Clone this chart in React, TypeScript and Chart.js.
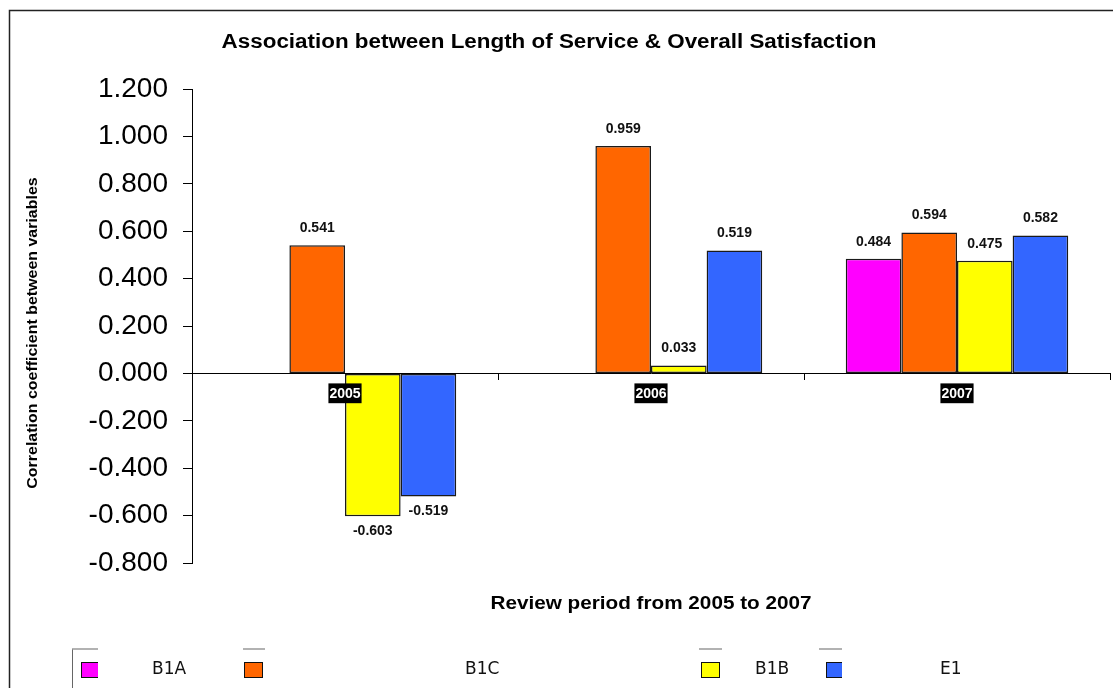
import React, { useEffect, useRef } from "react";
import { Chart, registerables } from "chart.js";

Chart.register(...registerables);

// ---- data ----
const years = ["2005", "2006", "2007"];
const seriesNames = ["B1A", "B1C", "B1B", "E1"];
const b1a: (number | null)[] = [null, null, 0.484];
const b1c: (number | null)[] = [0.541, 0.959, 0.594];
const b1b: (number | null)[] = [-0.603, 0.033, 0.475];
const e1: (number | null)[] = [-0.519, 0.519, 0.582];
const seriesColors = ["#FF00FF", "#FF6600", "#FFFF00", "#3366FF"];

const yMin = -0.8;
const yMax = 1.2;
const yStep = 0.2;

const chartTitle = "Association between Length of Service & Overall Satisfaction";
const yTitle = "Correlation coefficient between variables";
const xTitle = "Review period from 2005 to 2007";

// ---- layout ----
const W = 1113;
const H = 688;
const FONT = "'Liberation Sans', Arial, Helvetica, sans-serif";
const LEGEND_FONT = "'DejaVu Sans', Verdana, sans-serif";

// legend entries: box left, clip right edge, dash span, text left
const legendSlots = [
  { box: 81, clip: 98, dash: [72, 98], text: 152 },
  { box: 244, clip: 264, dash: [243, 265], text: 465 },
  { box: 701, clip: 722, dash: [699, 722], text: 755 },
  { box: 826, clip: 842, dash: [819, 842], text: 940 },
];

const fmt = (v: number) => (Math.abs(v) < 1e-9 ? 0 : v).toFixed(3);

// text drawn with a slight horizontal stretch
function wideText(ctx: CanvasRenderingContext2D, text: string, x: number, y: number, sx: number) {
  ctx.save();
  ctx.translate(x, y);
  ctx.scale(sx, 1);
  ctx.fillText(text, 0, 0);
  ctx.restore();
}

const framePlugin = {
  id: "frame",
  beforeDraw(chart: any) {
    const ctx = chart.ctx;
    ctx.save();
    ctx.fillStyle = "#ffffff";
    ctx.fillRect(0, 0, W, H);
    ctx.strokeStyle = "#222";
    ctx.lineWidth = 1.5;
    ctx.strokeRect(9.5, 10.5, W + 40, H + 40);
    ctx.restore();
  },
};

const textPlugin = {
  id: "texts",
  afterDraw(chart: any) {
    const ctx = chart.ctx;
    const area = chart.chartArea;
    ctx.save();
    ctx.fillStyle = "#000";
    ctx.textAlign = "center";
    ctx.textBaseline = "middle";
    ctx.font = `bold 20px ${FONT}`;
    wideText(ctx, chartTitle, 549, 42, 1.12);
    ctx.font = `bold 18px ${FONT}`;
    wideText(ctx, xTitle, (area.left + area.right) / 2, 604, 1.15);
    // vertical axis caption
    ctx.save();
    ctx.translate(33, 333);
    ctx.rotate(-Math.PI / 2);
    ctx.font = `bold 14px ${FONT}`;
    wideText(ctx, yTitle, 0, 0, 1.14);
    ctx.restore();
    ctx.restore();
  },
};

const valueLabelPlugin = {
  id: "valueLabels",
  afterDatasetsDraw(chart: any) {
    const ctx = chart.ctx;
    ctx.save();
    ctx.fillStyle = "#111";
    ctx.font = `bold 14px ${FONT}`;
    ctx.textAlign = "center";
    ctx.textBaseline = "middle";
    chart.data.datasets.forEach((ds: any, i: number) => {
      const meta = chart.getDatasetMeta(i);
      meta.data.forEach((el: any, j: number) => {
        const v = ds.data[j];
        if (v === null || v === undefined) return;
        const y = v >= 0 ? el.y - 17 : el.y + 15;
        ctx.fillText(fmt(v), el.x, y);
      });
    });
    ctx.restore();
  },
};

const legendPlugin = {
  id: "customLegend",
  afterDraw(chart: any) {
    const ctx = chart.ctx;
    ctx.save();
    // frame edge
    ctx.strokeStyle = "#666";
    ctx.lineWidth = 1;
    ctx.beginPath();
    ctx.moveTo(72.5, 649);
    ctx.lineTo(72.5, H);
    ctx.stroke();
    chart.data.datasets.forEach((ds: any, i: number) => {
      const s = legendSlots[i];
      ctx.strokeStyle = "#999";
      ctx.lineWidth = 1.5;
      ctx.beginPath();
      ctx.moveTo(s.dash[0], 649);
      ctx.lineTo(s.dash[1], 649);
      ctx.stroke();
      ctx.save();
      ctx.beginPath();
      ctx.rect(s.box - 2, 655, s.clip - s.box + 2, 30);
      ctx.clip();
      ctx.fillStyle = ds.backgroundColor;
      ctx.fillRect(s.box, 662, 19, 16);
      ctx.strokeStyle = "#111";
      ctx.lineWidth = 1;
      ctx.strokeRect(s.box + 0.5, 662.5, 18, 15);
      ctx.restore();
      ctx.fillStyle = "#111";
      ctx.font = `17px ${LEGEND_FONT}`;
      ctx.textAlign = "left";
      ctx.textBaseline = "middle";
      ctx.fillText(ds.label, s.text, 670);
    });
    ctx.restore();
  },
};

export default function App() {
  const canvasRef = useRef<HTMLCanvasElement | null>(null);

  useEffect(() => {
    const canvas = canvasRef.current;
    if (!canvas) return;
    const seriesData = [b1a, b1c, b1b, e1];
    const chart = new Chart(canvas, {
      type: "bar",
      data: {
        labels: years,
        datasets: seriesNames.map((name, i) => ({
          label: name,
          data: seriesData[i],
          backgroundColor: seriesColors[i],
          borderColor: "#1a1a1a",
          borderWidth: 1.5,
          borderSkipped: false,
          barPercentage: 1,
          categoryPercentage: 0.727,
        })),
      },
      options: {
        animation: false,
        responsive: false,
        devicePixelRatio: 1,
        layout: { padding: { left: 0, top: 89, right: 3, bottom: 125 } },
        plugins: {
          legend: { display: false },
          title: { display: false },
          tooltip: { enabled: false },
        },
        scales: {
          x: {
            position: { y: 0 } as any,
            offset: true,
            grid: {
              display: true,
              drawOnChartArea: false,
              drawTicks: true,
              tickLength: 6,
              offset: true,
              color: "#000",
              z: 1,
            } as any,
            border: { display: true, color: "#000", width: 1, z: 1 } as any,
            ticks: {
              z: 1,
              color: "#ffffff",
              font: { family: FONT, size: 14, weight: "bold" },
              padding: 6,
              showLabelBackdrop: true,
              backdropColor: "#000000",
              backdropPadding: { top: 2, bottom: 1, left: 1, right: 1 },
              maxRotation: 0,
            } as any,
          },
          y: {
            min: yMin,
            max: yMax,
            afterFit: (scale: any) => {
              scale.width = 192;
            },
            grid: {
              display: true,
              drawOnChartArea: false,
              drawTicks: true,
              tickLength: 9,
              color: "#000",
            },
            border: { display: true, color: "#000", width: 1 },
            ticks: {
              stepSize: yStep,
              color: "#000",
              padding: 15,
              font: { family: FONT, size: 28 },
              callback: (v: any) => fmt(Number(v)),
            },
          },
        },
      },
      plugins: [framePlugin, valueLabelPlugin, textPlugin, legendPlugin],
    });
    return () => chart.destroy();
  }, []);

  return (
    <div style={{ position: "absolute", left: 0, top: 0, width: W, height: H, background: "#fff" }}>
      <canvas ref={canvasRef} width={W} height={H} style={{ display: "block", width: W, height: H }} />
    </div>
  );
}
